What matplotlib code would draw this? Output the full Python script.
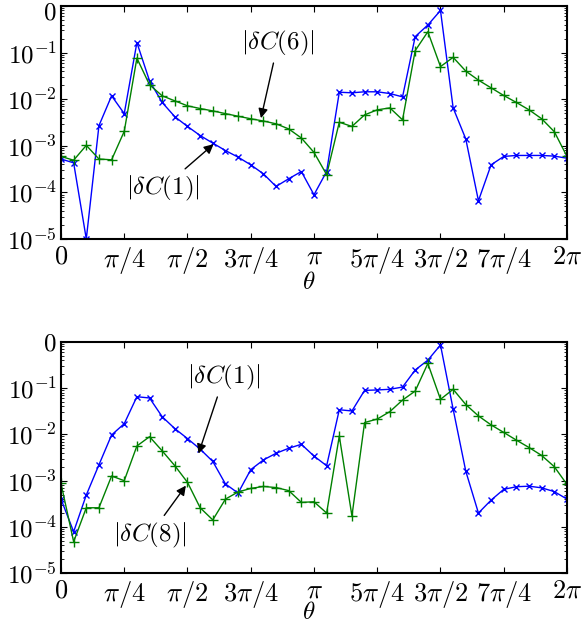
import numpy as np
import matplotlib
matplotlib.use("Agg")
import matplotlib.pyplot as plt
import matplotlib.transforms as mtransforms
from matplotlib.ticker import FixedLocator, FixedFormatter, LogLocator, NullFormatter

plt.rcParams['font.family'] = 'serif'
plt.rcParams['font.serif'] = ['cmr10', 'DejaVu Serif']
plt.rcParams['mathtext.fontset'] = 'cm'
plt.rcParams['axes.unicode_minus'] = False

n_points = 41
theta = np.linspace(0, 2 * np.pi, n_points)

top_dC1 = [5.2e-4, 4.3e-4, 1.0e-5, 2.7e-3, 1.18e-2, 4.9e-3, 0.164, 0.0247, 8.5e-3, 4.2e-3,
           2.6e-3, 1.66e-3, 1.14e-3, 7.9e-4, 5.7e-4, 3.9e-4, 2.5e-4, 1.34e-4, 1.96e-4, 2.8e-4,
           8.9e-5, 2.8e-4, 0.0141, 0.0137, 0.0144, 0.0144, 0.0132, 0.0112, 0.22, 0.39,
           0.80, 6.5e-3, 1.4e-3, 6.6e-5, 3.9e-4, 5.9e-4, 6.2e-4, 6.2e-4, 6.2e-4, 6.0e-4,
           5.4e-4]
top_dC6 = [5.9e-4, 4.9e-4, 1.02e-3, 5.2e-4, 5.0e-4, 2.04e-3, 0.076, 0.0203, 0.0118, 9.2e-3,
           7.2e-3, 6.3e-3, 5.6e-3, 4.9e-3, 4.3e-3, 3.8e-3, 3.4e-3, 2.96e-3, 2.3e-3, 1.47e-3,
           7.2e-4, 2.4e-4, 3.2e-3, 2.6e-3, 4.6e-3, 5.9e-3, 6.5e-3, 3.6e-3, 0.11, 0.28,
           0.05, 0.079, 0.04, 0.0256, 0.0175, 0.012, 8.5e-3, 5.9e-3, 3.8e-3, 2.0e-3,
           5.9e-4]
bot_dC1 = [4.0e-4, 7.9e-5, 4.9e-4, 2.2e-3, 9.7e-3, 0.017, 0.065, 0.061, 0.024, 0.0133,
           8.1e-3, 4.8e-3, 2.6e-3, 8.5e-4, 5.4e-4, 1.73e-3, 2.8e-3, 3.9e-3, 5.0e-3, 6.1e-3,
           3.4e-3, 2.1e-3, 0.034, 0.032, 0.089, 0.091, 0.094, 0.105, 0.245, 0.40,
           0.85, 0.035, 1.6e-3, 2.0e-4, 3.8e-4, 6.5e-4, 7.4e-4, 7.6e-4, 7.0e-4, 5.8e-4,
           4.0e-4]
bot_dC8 = [8.7e-4, 4.8e-5, 2.6e-4, 2.6e-4, 1.26e-3, 1.0e-3, 5.6e-3, 8.9e-3, 4.4e-3, 2.1e-3,
           9.2e-4, 2.6e-4, 1.42e-4, 4.0e-4, 5.7e-4, 6.8e-4, 7.5e-4, 7.1e-4, 6.1e-4, 3.4e-4,
           3.5e-4, 2.0e-4, 9.2e-3, 1.73e-4, 0.018, 0.0214, 0.031, 0.055, 0.086, 0.34,
           0.057, 0.094, 0.044, 0.025, 0.016, 0.011, 7.5e-3, 5.2e-3, 3.5e-3, 2.0e-3,
           8.3e-4]

xtick_vals = [k * np.pi / 4 for k in range(9)]
xtick_labels = ['$0$', r'$\pi/4$', r'$\pi/2$', r'$3\pi/4$', r'$\pi$',
                r'$5\pi/4$', r'$3\pi/2$', r'$7\pi/4$', r'$2\pi$']
ytick_vals = [1e-5, 1e-4, 1e-3, 1e-2, 1e-1, 1e0]
ytick_labels = [r'$10^{-5}$', r'$10^{-4}$', r'$10^{-3}$', r'$10^{-2}$', r'$10^{-1}$', '$0$']

fig = plt.figure(figsize=(5.82, 6.22), dpi=100)
ax1 = fig.add_axes([0.1048, 0.6158, 0.8694, 0.3746])
ax2 = fig.add_axes([0.1048, 0.0783, 0.8694, 0.3723])

def style(ax, label_y):
    ax.set_yscale('log')
    ax.set_xlim(0, 2 * np.pi)
    ax.set_ylim(1e-5, 1)
    ax.xaxis.set_major_locator(FixedLocator(xtick_vals))
    ax.xaxis.set_major_formatter(FixedFormatter(xtick_labels))
    ax.yaxis.set_major_locator(FixedLocator(ytick_vals))
    ax.yaxis.set_major_formatter(FixedFormatter(ytick_labels))
    ax.yaxis.set_minor_locator(LogLocator(base=10, subs=np.arange(2, 10), numticks=20))
    ax.yaxis.set_minor_formatter(NullFormatter())
    ax.tick_params(which='both', direction='in', top=True, right=True)
    ax.tick_params(axis='x', labelsize=19, pad=4)
    ax.tick_params(axis='y', labelsize=18, pad=3)
    ax.tick_params(which='major', length=4, width=0.8)
    ax.tick_params(which='minor', length=2, width=0.6)
    for s in ax.spines.values():
        s.set_linewidth(1.5)
    ax.set_xlabel(r'$\theta$', fontsize=18, va='center')
    ax.xaxis.set_label_coords(0.49, label_y)

lw = 1.0
ms = 5
ax1.plot(theta, top_dC1, color='#0000ff', marker='x', ms=ms, mew=1, lw=lw)
ax1.plot(theta, top_dC6, color='#008000', marker='+', ms=ms + 2, mew=1, lw=lw)
ax2.plot(theta, bot_dC1, color='#0000ff', marker='x', ms=ms, mew=1, lw=lw)
ax2.plot(theta, bot_dC8, color='#008000', marker='+', ms=ms + 2, mew=1, lw=lw)
style(ax1, -0.19)
style(ax2, -0.17)

# the top panel's "0" label sits a little lower in the reference
fig.canvas.draw()
top_lbl = ax1.yaxis.get_majorticklabels()[-1]
top_lbl.set_transform(top_lbl.get_transform() +
                      mtransforms.ScaledTranslation(0, -5 / 100, fig.dpi_scale_trans))

arrow = dict(arrowstyle='-|>', color='black', lw=1, shrinkA=2, shrinkB=0, mutation_scale=14)
tfs = 18
ax1.annotate(r'$|\delta C(6)|$', xy=(theta[16] - 0.03, top_dC6[16] * 1.15),
             xytext=(278, 622 - 43), textcoords='figure pixels', fontsize=tfs,
             ha='center', va='center', arrowprops=arrow)
ax1.annotate(r'$|\delta C(1)|$', xy=(theta[12] + 0.01, top_dC1[12] * 0.95),
             xytext=(163, 622 - 188), textcoords='figure pixels', fontsize=tfs,
             ha='center', va='center', arrowprops=arrow)
ax2.annotate(r'$|\delta C(1)|$', xy=(theta[11] - 0.02, bot_dC1[11] * 0.8),
             xytext=(224, 622 - 377), textcoords='figure pixels', fontsize=tfs,
             ha='center', va='center', arrowprops=arrow)
ax2.annotate(r'$|\delta C(8)|$', xy=(theta[10] - 0.02, bot_dC8[10] * 0.85),
             xytext=(150, 622 - 535), textcoords='figure pixels', fontsize=tfs,
             ha='center', va='center', arrowprops=arrow)

fig.savefig('out.png', dpi=100)
